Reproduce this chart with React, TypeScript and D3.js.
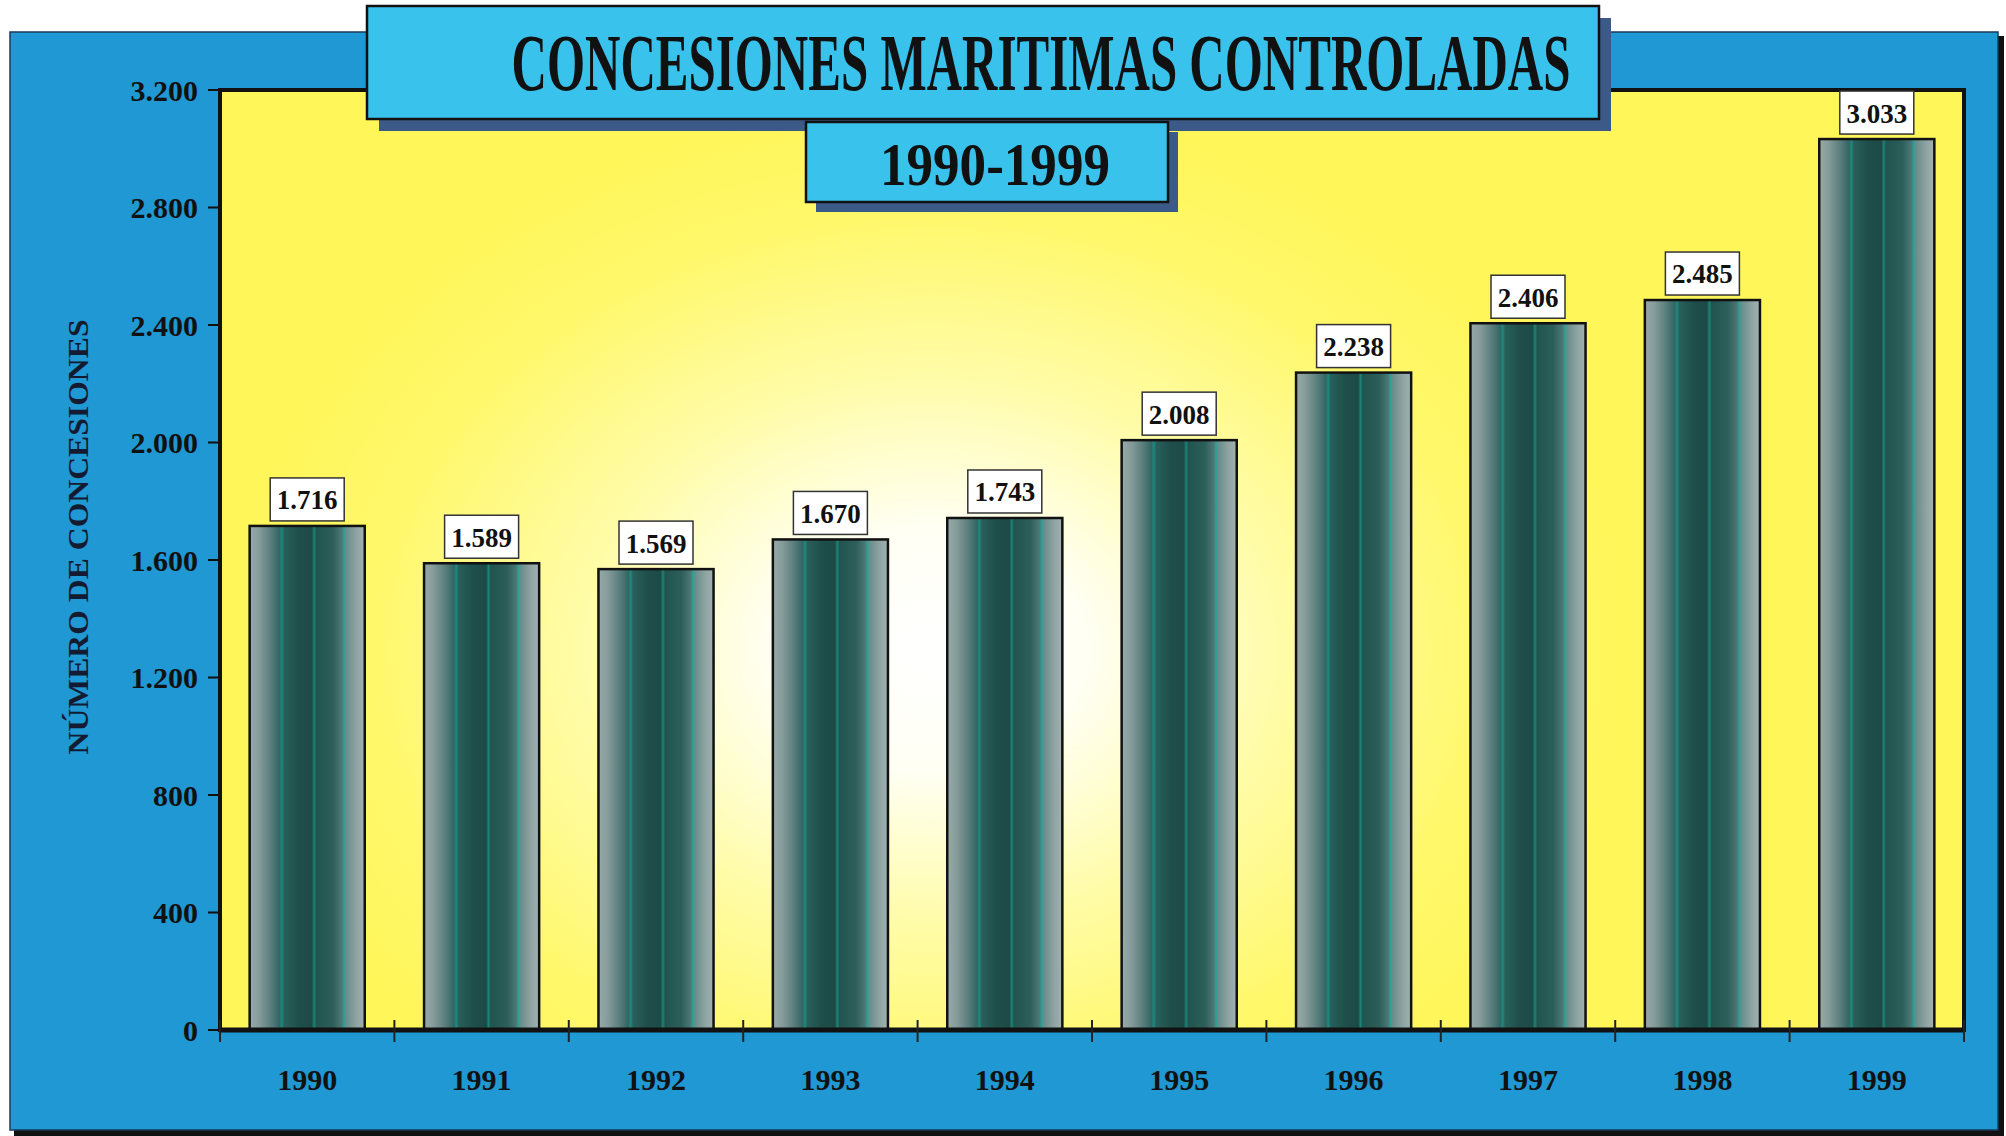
import React from "react";
import * as d3 from "d3";

const years = ["1990", "1991", "1992", "1993", "1994", "1995", "1996", "1997", "1998", "1999"];
const concessions = [1716, 1589, 1569, 1670, 1743, 2008, 2238, 2406, 2485, 3033];
const yTicks = [0, 400, 800, 1200, 1600, 2000, 2400, 2800, 3200];

const title = "CONCESIONES MARITIMAS CONTROLADAS";
const subtitle = "1990-1999";
const yTitle = "NÚMERO DE CONCESIONES";

const W = 2006;
const H = 1136;
const plot = { left: 220, top: 90, right: 1964, bottom: 1030 };
const font = "'Liberation Serif', 'Times New Roman', serif";

// 1.716 style thousands separator
const fmt = (v: number) => d3.format(",")(v).replace(/,/g, ".");

export default function App() {
  const x = d3.scaleBand<string>()
    .domain(years)
    .range([plot.left, plot.right])
    .paddingInner(0.34)
    .paddingOuter(0.17);

  const y = d3.scaleLinear()
    .domain([0, 3200])
    .range([plot.bottom, plot.top]);

  const step = x.step();
  const boundaries = d3.range(years.length + 1).map(i => plot.left + i * step);

  return (
    <div style={{ position: "absolute", left: 0, top: 0 }}>
      <svg width={W} height={H} style={{ display: "block", background: "#fff" }}>
        <defs>
          <radialGradient id="bg-glow" gradientUnits="userSpaceOnUse"
            cx={930} cy={650} r={700}
            gradientTransform="translate(930,650) scale(1,0.78) translate(-930,-650)">
            <stop offset="0%" stopColor="#ffffff" />
            <stop offset="22%" stopColor="#fffff4" />
            <stop offset="50%" stopColor="#fffca8" />
            <stop offset="80%" stopColor="#fff86a" />
            <stop offset="100%" stopColor="#fff65a" />
          </radialGradient>
          <linearGradient id="bar-fill" x1="0" y1="0" x2="1" y2="0">
            <stop offset="0%" stopColor="#97aaa9" />
            <stop offset="8%" stopColor="#869c9b" />
            <stop offset="18%" stopColor="#5b7f7d" />
            <stop offset="26%" stopColor="#316663" />
            <stop offset="28%" stopColor="#1c8b80" />
            <stop offset="30%" stopColor="#295f5b" />
            <stop offset="42%" stopColor="#1f4f4b" />
            <stop offset="54%" stopColor="#1d4a46" />
            <stop offset="56%" stopColor="#1a8478" />
            <stop offset="58%" stopColor="#21544f" />
            <stop offset="72%" stopColor="#2c5e5a" />
            <stop offset="80%" stopColor="#4d7674" />
            <stop offset="82%" stopColor="#2aa196" />
            <stop offset="84%" stopColor="#698d8b" />
            <stop offset="93%" stopColor="#8fa4a3" />
            <stop offset="100%" stopColor="#a1b2b1" />
          </linearGradient>
        </defs>

        {/* outer blue panel */}
        <rect x={14} y={36} width={1990} height={1100} fill="#111" />
        <rect x={10} y={32} width={1988} height={1098} fill="#1f98d4" stroke="#1b3b5a" strokeWidth={1.5} />

        {/* plot area */}
        <rect x={plot.left} y={plot.top} width={plot.right - plot.left} height={plot.bottom - plot.top}
          fill="url(#bg-glow)" stroke="#111" strokeWidth={4} />

        {/* y ticks */}
        {yTicks.map(t => (
          <g key={t}>
            <line x1={plot.left - 12} x2={plot.left} y1={y(t)} y2={y(t)} stroke="#111" strokeWidth={2} />
            <text x={plot.left - 22} y={y(t)} dy="0.35em" textAnchor="end"
              fontFamily={font} fontWeight="bold" fontSize={30} fill="#111">{fmt(t)}</text>
          </g>
        ))}

        {/* bars */}
        {years.map((yr, i) => {
          const v = concessions[i];
          const bx = x(yr)!;
          const bw = x.bandwidth();
          const cx = bx + bw / 2;
          const top = y(v);
          return (
            <g key={yr}>
              <rect x={bx} y={top} width={bw} height={plot.bottom - top}
                fill="url(#bar-fill)" stroke="#111" strokeWidth={2.5} />
              <rect x={cx - 37} y={top - 48} width={74} height={43}
                fill="#fff" stroke="#333" strokeWidth={1.5} />
              <text x={cx} y={top - 26} dy="0.35em" textAnchor="middle"
                fontFamily={font} fontWeight="bold" fontSize={27} fill="#111">{fmt(v)}</text>
            </g>
          );
        })}

        {/* baseline and x ticks */}
        <line x1={plot.left} x2={plot.right} y1={plot.bottom} y2={plot.bottom} stroke="#111" strokeWidth={5} />
        {boundaries.map((bx, i) => (
          <line key={i} x1={bx} x2={bx} y1={plot.bottom - 10} y2={plot.bottom + 12} stroke="#222" strokeWidth={2} />
        ))}
        {years.map(yr => (
          <text key={yr} x={x(yr)! + x.bandwidth() / 2} y={1090} textAnchor="middle"
            fontFamily={font} fontWeight="bold" fontSize={30} fill="#111">{yr}</text>
        ))}

        {/* y axis title */}
        <text transform="translate(78,537) rotate(-90)" textAnchor="middle" dy="0.35em"
          fontFamily={font} fontWeight="bold" fontSize={29} fill="#141a30"
          textLength={435} lengthAdjust="spacingAndGlyphs">{yTitle}</text>

        {/* title box */}
        <rect x={379} y={18} width={1232} height={113} fill="#3b5a88" />
        <rect x={367} y={6} width={1232} height={113} fill="#38c2ec" stroke="#111" strokeWidth={2.5} />
        <text x={1041} y={90} textAnchor="middle" fontFamily={font} fontWeight="bold" fontSize={80}
          fill="#111" textLength={1059} lengthAdjust="spacingAndGlyphs">{title}</text>

        {/* subtitle box */}
        <rect x={816} y={132} width={362} height={80} fill="#3b5a88" />
        <rect x={806} y={122} width={362} height={80} fill="#38c2ec" stroke="#111" strokeWidth={2.5} />
        <text x={995} y={185} textAnchor="middle" fontFamily={font} fontWeight="bold" fontSize={62}
          fill="#111" textLength={230} lengthAdjust="spacingAndGlyphs">{subtitle}</text>
      </svg>
    </div>
  );
}
